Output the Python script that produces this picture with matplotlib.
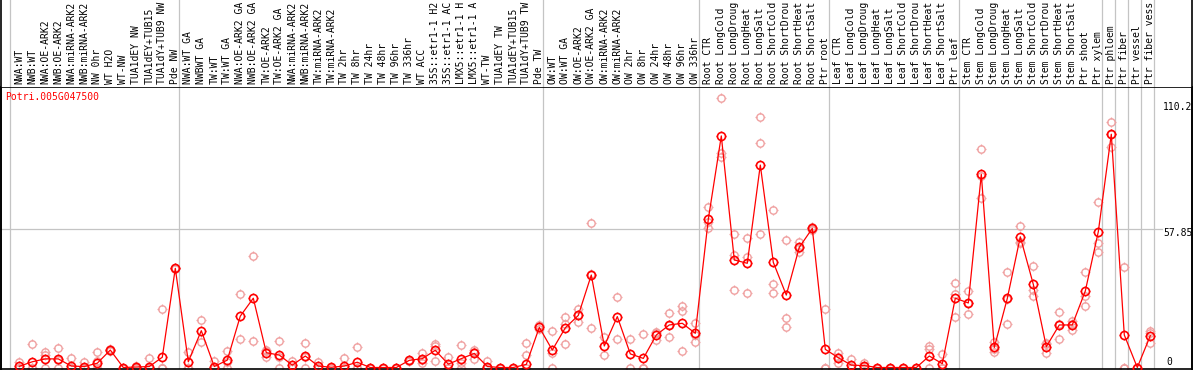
import numpy as np
import matplotlib.pyplot as plt
from matplotlib.path import Path

gene = "Potri.005G047500"

labels = [
    "NWA:WT", "NWB:WT", "NWA:OE-ARK2", "NWB:OE-ARK2", "NWA:miRNA-ARK2", "NWB:miRNA-ARK2",
    "NW 0hr", "WT H2O", "WT-NW", "TUA1dEY NW", "TUA1dEY+TUB15 NW", "TUA1dY+TUB9 NW", "Pde NW",
    "NWA:WT GA", "NWBWT GA", "TW:WT", "TW:WT GA", "NWA:OE-ARK2 GA", "NWB:OE-ARK2 GA",
    "TW:OE-ARK2", "TW:OE-ARK2 GA", "NWA:miRNA-ARK2 GA", "NWB:miRNA-ARK2 GA", "TW:miRNA-ARK2",
    "TW:miRNA-ARK2 GA", "TW 2hr", "TW 8hr", "TW 24hr", "TW 48hr", "TW 96hr", "TW 336hr", "WT ACC",
    "35S::etr1-1 H2O", "35S::etr1-1 ACC", "LMX5::etr1-1 H2O", "LMX5::etr1-1 ACC", "WT-TW",
    "TUA1dEY TW", "TUA1dEY+TUB15 TW", "TUA1dY+TUB9 TW", "Pde TW",
    "OW:WT", "OW:WT GA", "OW:OE-ARK2", "OW:OE-ARK2 GA", "OW:miRNA-ARK2", "OW:miRNA-ARK2 GA",
    "OW 2hr", "OW 8hr", "OW 24hr", "OW 48hr", "OW 96hr", "OW 336hr",
    "Root CTR", "Root LongCold", "Root LongDrought", "Root LongHeat", "Root LongSalt",
    "Root ShortCold", "Root ShortDrought", "Root ShortHeat", "Root ShortSalt", "Ptr root",
    "Leaf CTR", "Leaf LongCold", "Leaf LongDrought", "Leaf LongHeat", "Leaf LongSalt",
    "Leaf ShortCold", "Leaf ShortDrought", "Leaf ShortHeat", "Leaf ShortSalt", "Ptr leaf",
    "Stem CTR", "Stem LongCold", "Stem LongDrought", "Stem LongHeat", "Stem LongSalt",
    "Stem ShortCold", "Stem ShortDrought", "Stem ShortHeat", "Stem ShortSalt", "Ptr shoot",
    "Ptr xylem", "Ptr phloem", "Ptr fiber", "Ptr vessel", "Ptr fiber vessel",
]

means = [
    0.5, 2.4, 3.6, 3.6, 0.6, 0.4, 1.8, 7.3, 0, 0.2, 0.4, 4.3, 41.5,
    2.4, 15.4, 0.4, 3.1, 21.5, 29.0, 6.2, 5.2, 1.0, 4.8, 0.6, 0.1, 0.6, 2.2, 0, 0,
    0, 3.0, 3.7, 7.2, 1.4, 3.7, 5.9, 0.4, 0, 0, 1.3, 16.8,
    7.3, 16.6, 21.8, 38.7, 9.0, 21.3, 5.7, 3.8, 13.6, 17.8, 18.5, 14.3,
    62.0, 96.9, 45.0, 43.6, 84.7, 44.0, 30.3, 50.3, 58.2, 7.6,
    4.1, 1.0, 0.8, 0, 0, 0, 0, 4.8, 1.6, 29.0,
    27.0, 80.8, 8.4, 28.9, 54.7, 34.8, 8.7, 17.8, 17.8, 32.0, 56.8,
    97.6, 13.6, 0, 13.3,
]

reps = [
    [2.4, 0, 0], [9.7, 0, 0], [6.6, 5.2, 0], [8.0, 3.0, 0], [3.8, 0, 0], [2.2, 0, 0],
    [6.6, 2.9, 0], [7.7, 7.1, 7.2], [0, 0, 0], [0, 0, 0.5], [3.8, 0, 0], [24.6, 0, 0],
    [41.8, 41.2, 41.5],
    [6.6, 0, 0], [19.9, 10.5], [2.6, 0, 0], [6.9, 2.5, 0], [30.6, 11.9], [46.7, 11.1],
    [7.3, 4.5, 6.8], [11.1, 4.5, 0], [2.9, 0, 0], [10.1, 4.3, 0], [2.1, 0, 0], [0, 0, 0],
    [4.1, 0, 0], [8.7, 0, 0], [0, 0], [0, 0],
    [0, 0], [3.3, 2.8, 2.9], [5.9, 3.0, 2.0], [9.8, 8.9, 2.8], [4.5, 0, 0], [9.4, 1.8, 0],
    [7.3, 6.6, 3.4], [2.7, 0, 0], [0, 0], [0, 0], [10.4, 5.2, 0], [17.8, 17.2, 16.0],
    [15.2, 0, 6.0], [21.3, 9.8, 18.0], [24.3, 19.1, 22.0], [60.5, 16.4, 39.0], [12.6, 5.3],
    [29.5, 12.1], [11.9, 0], [13.9, 0, 0], [15.0, 11.5, 14.3], [22.7, 12.8, 17.9],
    [25.9, 23.7, 6.9], [18.6, 10.6, 13.7],
    [67.0, 61.0, 58.3], [112.6, 89.6, 88.2], [55.8, 47.0, 32.4], [54.0, 46.3, 31.0],
    [104.7, 93.8, 55.8], [65.7, 35.0, 31.0], [53.3, 20.7, 16.9], [52.6, 48.5, 49.8],
    [58.7, 57.6, 58.0], [24.3, 0, 0],
    [5.9, 2.0, 4.4], [3.5, 0, 0], [2.0, 0.5, 0], [0, 0], [0, 0], [0, 0], [0, 0],
    [9.0, 7.6, 0], [5.8, 0, 0], [35.3, 30.8, 21.3],
    [32.0, 22.4, 27.0], [91.3, 70.8, 80.3], [10.8, 6.6, 7.8], [39.8, 18.2, 28.7],
    [59.2, 52.6, 52.3], [42.5, 32.4, 30.1], [10.1, 6.2, 9.8], [23.4, 11.8, 18.2],
    [19.5, 15.7, 18.1], [39.8, 30.1, 25.7], [69.4, 52.0, 48.5],
    [102.6, 92.4, 97.8], [42.2, 0, 0], [0, 0], [15.3, 10.4, 14.3],
]

group_starts = [0, 13, 41, 53, 63, 73, 84, 85, 86, 87, 88]
ymax_label = 110.2
ymid_label = 57.85

W, H = 1194, 370
mono = "DejaVu Sans Mono"
fs = 7.0
grid_c = "#c4c4c4"
max_chars = 14  # the label strip only has room for this many

# pixel helpers (x: column index, y: value)
def px_x(p):
    return (p - 19.3) / 13.0

def px_y(p):
    return (367.5 - p) / 2.39

# small ticks around the circles
tick_path = Path(
    [(0, 0.7), (0, 1), (0, -0.7), (0, -1), (0.7, 0), (1, 0), (-0.7, 0), (-1, 0)],
    [Path.MOVETO, Path.LINETO] * 4,
)

fig = plt.figure(figsize=(W / 100, H / 100), dpi=100)
ax = fig.add_axes([1 / W, (H - 368.5) / H, 1191 / W, (368.5 - 87) / H])
lax = fig.add_axes([1 / W, (H - 87) / H, 1191 / W, 87 / H])

xl = (px_x(1), px_x(1192))
for a in (ax, lax):
    a.set_xlim(*xl)
    a.set_xticks([])
    a.set_yticks([])
    for g in group_starts:
        a.axvline(g - 0.69, color=grid_c, lw=0.9, zorder=0)
ax.set_ylim(px_y(368.5), px_y(87))
lax.set_ylim(0, 1)
for s in lax.spines.values():
    s.set_visible(False)
for s in ax.spines.values():
    s.set_linewidth(1.2)

# labels
for i, lab in enumerate(labels):
    lax.text(i, (87 - 84) / 87, lab[:max_chars].rstrip(), rotation=90, ha="center",
             va="bottom", fontsize=fs, family=mono, clip_on=False)

# horizontal grid
ax.plot([xl[0], px_x(1162)], [ymid_label, ymid_label], color=grid_c, lw=0.9, zorder=0)

# replicates
rx = [i for i, r in enumerate(reps) for _ in r]
ry = [v for r in reps for v in r]
ax.plot(rx, ry, ls="none", marker="o", ms=5.3, mfc="none", mec="#f0a0a0", mew=1.0, zorder=2)
ax.plot(rx, ry, ls="none", marker=tick_path, ms=7.2, mec="#f0a0a0", mew=0.9, zorder=2)

# mean line
x = np.arange(len(means))
ax.plot(x, means, color="red", lw=0.9, zorder=3)
ax.plot(x, means, ls="none", marker="o", ms=5.8, mfc="none", mec="red", mew=1.2, zorder=4)
ax.plot(x, means, ls="none", marker=tick_path, ms=7.8, mec="red", mew=1.0, zorder=4)

# axis texts
ax.text(px_x(5), px_y(97), gene, color="red", fontsize=fs, family=mono, va="center", ha="left")
ax.text(px_x(1163), ymax_label - 1.4, str(ymax_label), fontsize=fs, family=mono, va="center")
ax.text(px_x(1163), ymid_label - 1.4, str(ymid_label), fontsize=fs, family=mono, va="center")
ax.text(px_x(1166), px_y(362), "0", fontsize=fs, family=mono, va="center")

# frame lines in label area
fig.add_artist(plt.Line2D([1 / W, 1 / W], [0, 1], color="black", lw=1.2))
fig.add_artist(plt.Line2D([1192 / W, 1192 / W], [0, 1], color="black", lw=1.2))

fig.savefig("out.png", dpi=100)
